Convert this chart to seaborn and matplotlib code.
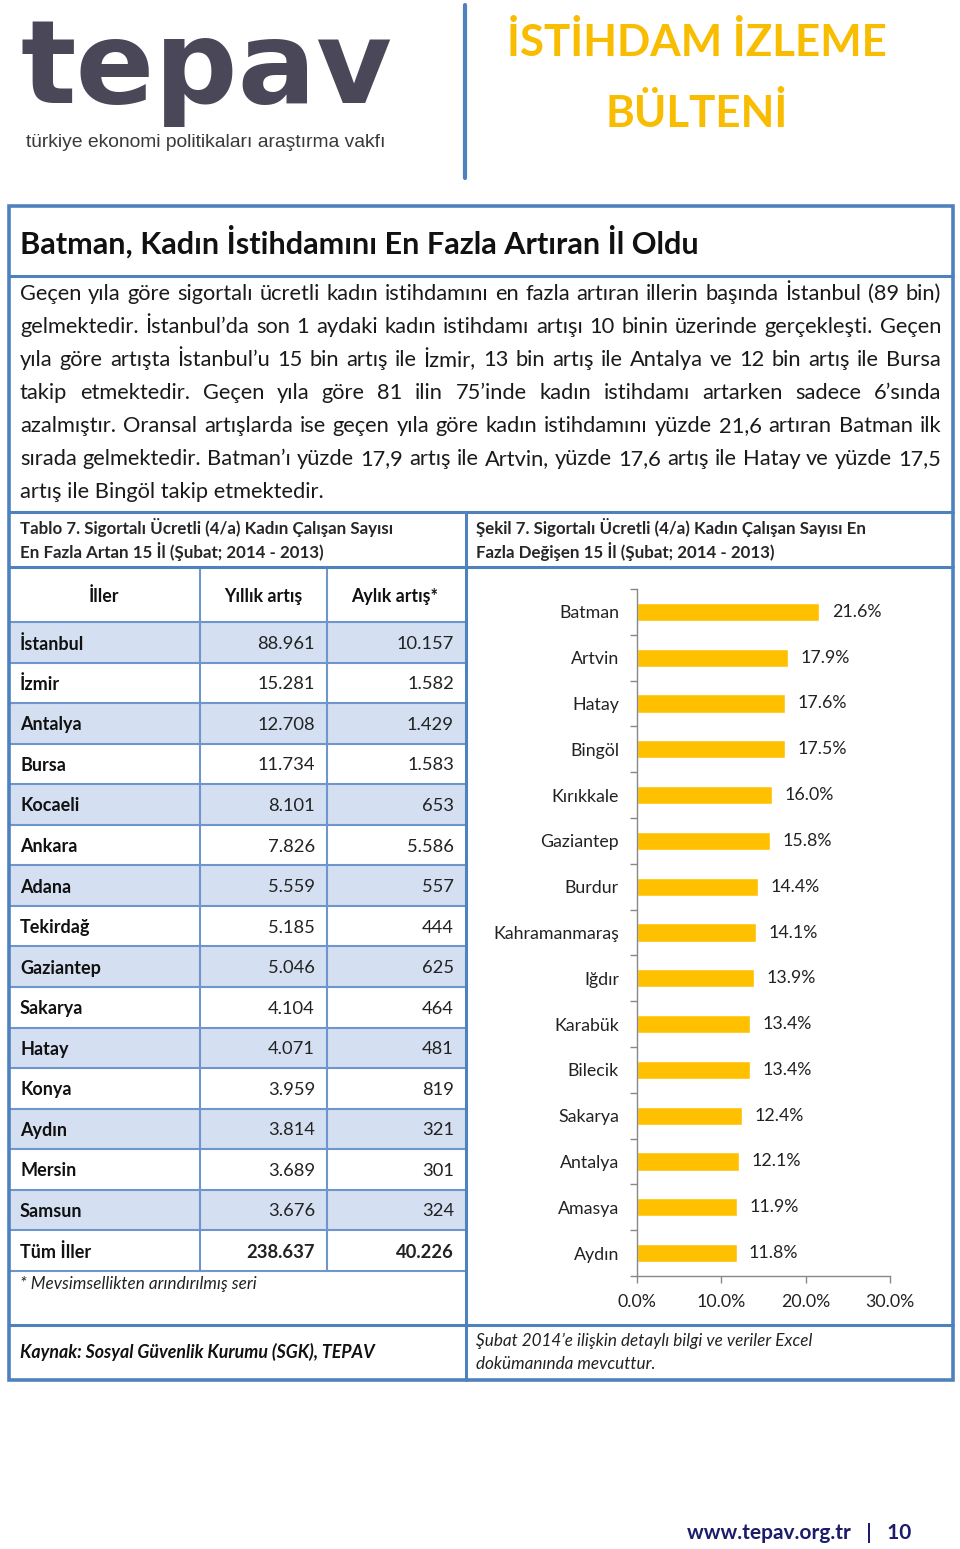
import matplotlib
matplotlib.use('Agg')
import matplotlib.pyplot as plt
import seaborn as sns
from matplotlib.patches import Rectangle
from matplotlib.ticker import FuncFormatter, FixedLocator

sns.set_theme(style='white')
plt.rcParams['font.family'] = ['Lato', 'DejaVu Sans']

# ---------------- veriler ----------------
# Tablo 7
iller = ['İstanbul', 'İzmir', 'Antalya', 'Bursa', 'Kocaeli', 'Ankara', 'Adana', 'Tekirdağ',
         'Gaziantep', 'Sakarya', 'Hatay', 'Konya', 'Aydın', 'Mersin', 'Samsun', 'Tüm İller']
yillik_artis = [88961, 15281, 12708, 11734, 8101, 7826, 5559, 5185,
                5046, 4104, 4071, 3959, 3814, 3689, 3676, 238637]
aylik_artis = [10157, 1582, 1429, 1583, 653, 5586, 557, 444,
               625, 464, 481, 819, 321, 301, 324, 40226]
tablo_basliklar = ['İller', 'Yıllık artış', 'Aylık artış*']

# Şekil 7
sekil_iller = ['Batman', 'Artvin', 'Hatay', 'Bingöl', 'Kırıkkale', 'Gaziantep', 'Burdur',
               'Kahramanmaraş', 'Iğdır', 'Karabük', 'Bilecik', 'Sakarya', 'Antalya', 'Amasya', 'Aydın']
sekil_oran = [21.6, 17.9, 17.6, 17.5, 16.0, 15.8, 14.4, 14.1, 13.9, 13.4, 13.4, 12.4, 12.1, 11.9, 11.8]
sekil_xticks = [0, 10, 20, 30]

paragraf = [
    'Geçen yıla göre sigortalı ücretli kadın istihdamını en fazla artıran illerin başında İstanbul (89 bin)',
    'gelmektedir. İstanbul’da son 1 aydaki kadın istihdamı artışı 10 binin üzerinde gerçekleşti. Geçen',
    'yıla göre artışta İstanbul’u 15 bin artış ile İzmir, 13 bin artış ile Antalya ve 12 bin artış ile Bursa',
    'takip etmektedir. Geçen yıla göre 81 ilin 75’inde kadın istihdamı artarken sadece 6’sında',
    'azalmıştır. Oransal artışlarda ise geçen yıla göre kadın istihdamını yüzde 21,6 artıran Batman ilk',
    'sırada gelmektedir. Batman’ı yüzde 17,9 artış ile Artvin, yüzde 17,6 artış ile Hatay ve yüzde 17,5',
    'artış ile Bingöl takip etmektedir.',
]

# renkler
mavi = '#4f81bd'
ince_mavi = '#6f95cd'
golge = '#d4e0f1'
sari = '#ffc000'

fig = plt.figure(figsize=(9.6, 15.49), dpi=100)
lay = fig.add_axes([0, 0, 1, 1])
lay.set_xlim(0, 960)
lay.set_ylim(1549, 0)
lay.axis('off')
renderer = fig.canvas.get_renderer()


def tw(s, **kw):
    t = lay.text(0, 0, s, **kw)
    w = t.get_window_extent(renderer).width
    t.remove()
    return w


def fit_size(s, width, size, **kw):
    return size * width / tw(s, fontsize=size, **kw)


# ---------------- başlık ----------------
lay.text(20, 103, 'tepav', fontsize=fit_size('tepav', 372, 80, family='DejaVu Sans', weight='bold'),
         family='DejaVu Sans', weight='bold', color='#4a4858', va='baseline')
lay.text(26, 142, 'türkiye ekonomi politikaları araştırma vakfı', family='Liberation Sans',
         fontsize=fit_size('türkiye ekonomi politikaları araştırma vakfı', 360, 11, family='Liberation Sans'),
         color='#3a3a3a', va='center')
lay.plot([465, 465], [5, 178], color=mavi, lw=3)
bs = fit_size('İSTİHDAM İZLEME', 380, 36, weight='bold')
lay.text(697, 42, 'İSTİHDAM İZLEME', fontsize=bs, weight='bold', color='#f8bd00', ha='center', va='center')
lay.text(697, 113, 'BÜLTENİ', fontsize=bs, weight='bold', color='#f8bd00', ha='center', va='center')

# ---------------- çerçeve ----------------
lay.add_patch(Rectangle((9, 206), 944, 1174, fill=False, ec=mavi, lw=2.6, zorder=5))
for y in [276, 512, 567, 1325]:
    lay.plot([9, 953], [y, y], color=mavi, lw=2.2, zorder=5)
lay.plot([466, 466], [512, 1380], color=mavi, lw=2.2, zorder=5)

baslik = 'Batman, Kadın İstihdamını En Fazla Artıran İl Oldu'
lay.text(20, 242, baslik, fontsize=fit_size(baslik, 678, 20, weight='bold'), weight='bold',
         color='#111111', va='center')

# paragraf (iki yana yaslı)
ps = 16 * min(921 / tw(s, fontsize=16) for s in paragraf[:-1] if s != paragraf[3])
for i, satir in enumerate(paragraf):
    y = 294 + i * 33
    if i == len(paragraf) - 1:
        lay.text(20, y, satir, fontsize=ps, color='#1a1a1a', va='center')
        continue
    kelimeler = satir.split(' ')
    ws = [tw(k, fontsize=ps) for k in kelimeler]
    bosluk = (921 - sum(ws)) / (len(kelimeler) - 1)
    x = 20
    for k, w in zip(kelimeler, ws):
        lay.text(x, y, k, fontsize=ps, color='#1a1a1a', va='center')
        x += w + bosluk

# alt başlıklar
cs = 12.2
lay.text(20, 527, 'Tablo 7. Sigortalı Ücretli (4/a) Kadın Çalışan Sayısı', fontsize=cs, weight='bold', va='center')
lay.text(20, 551, 'En Fazla Artan 15 İl (Şubat; 2014 - 2013)', fontsize=cs, weight='bold', va='center')
lay.text(476, 527, 'Şekil 7. Sigortalı Ücretli (4/a) Kadın Çalışan Sayısı En', fontsize=cs, weight='bold', va='center')
lay.text(476, 551, 'Fazla Değişen 15 İl (Şubat; 2014 - 2013)', fontsize=cs, weight='bold', va='center')

# ---------------- tablo ----------------
satir_h = 40.55
ust = 622
for x, b in zip([104, 263, 395], tablo_basliklar):
    lay.text(x, 596, b, fontsize=12.8, weight='bold', ha='center', va='center', color='#111111')
for i, il in enumerate(iller):
    top = ust + i * satir_h
    if i % 2 == 0 and i < 15:
        lay.add_patch(Rectangle((10, top), 455, satir_h, color=golge, lw=0, zorder=0))
    yc = top + satir_h / 2 + 1.5
    kalin = 'bold' if i == 15 else 'normal'
    lay.text(20, yc, il, fontsize=13, weight='bold', va='center', color='#111111')
    lay.text(315, yc, f'{yillik_artis[i]:,}'.replace(',', '.'), fontsize=13.2, weight=kalin,
             ha='right', va='center', color='#222222')
    lay.text(454, yc, f'{aylik_artis[i]:,}'.replace(',', '.'), fontsize=13.2, weight=kalin,
             ha='right', va='center', color='#222222')
for i in range(len(iller) + 1):
    y = ust + i * satir_h
    lay.plot([10, 465], [y, y], color=ince_mavi, lw=1.5, zorder=3)
for x in [200, 327]:
    lay.plot([x, x], [567, ust + len(iller) * satir_h], color=ince_mavi, lw=1.5, zorder=3)

lay.text(20, 1284, '* Mevsimsellikten arındırılmış seri', fontsize=12.3, style='italic', va='center', color='#222222')
lay.text(20, 1352, 'Kaynak: Sosyal Güvenlik Kurumu (SGK), TEPAV', fontsize=12.8, style='italic',
         weight='bold', va='center', color='#111111')
lay.text(476, 1341, 'Şubat 2014’e ilişkin detaylı bilgi ve veriler Excel', fontsize=12.3, style='italic',
         va='center', color='#222222')
lay.text(476, 1364, 'dokümanında mevcuttur.', fontsize=12.3, style='italic', va='center', color='#222222')

lay.text(911, 1533, 'www.tepav.org.tr   |   10', fontsize=15, weight='bold', color='#1c1c6a',
         ha='right', va='center')

# ---------------- grafik ----------------
ax = fig.add_axes([637 / 960, 1 - 1276 / 1549, 253 / 960, 687 / 1549])
ax.patch.set_alpha(0)
sns.barplot(x=sekil_oran, y=sekil_iller, color=sari, saturation=1, width=0.4, ax=ax)
ax.set_xlim(0, 30)
ax.set_ylim(14.5, -0.5)
ax.set_xticks(sekil_xticks)
ax.xaxis.set_major_formatter(FuncFormatter(lambda v, p: f'{v:.1f}%'))
ax.yaxis.set_minor_locator(FixedLocator([i - 0.5 for i in range(len(sekil_iller) + 1)]))
ax.tick_params(axis='y', which='major', length=0, pad=13, labelsize=12.8, labelcolor='#222222')
ax.tick_params(axis='y', which='minor', left=True, length=5, width=1, color='#888888')
ax.tick_params(axis='x', bottom=True, length=5, width=1, color='#888888', pad=8,
               labelsize=12.8, labelcolor='#222222')
for s in ['top', 'right']:
    ax.spines[s].set_visible(False)
for s in ['left', 'bottom']:
    ax.spines[s].set_color('#888888')
    ax.spines[s].set_linewidth(1)
ax.set_xlabel('')
ax.set_ylabel('')
ax.bar_label(ax.containers[0], labels=[f'{v:.1f}%' for v in sekil_oran], padding=9,
             fontsize=12.8, color='#222222')

fig.savefig('out.png', dpi=100)
